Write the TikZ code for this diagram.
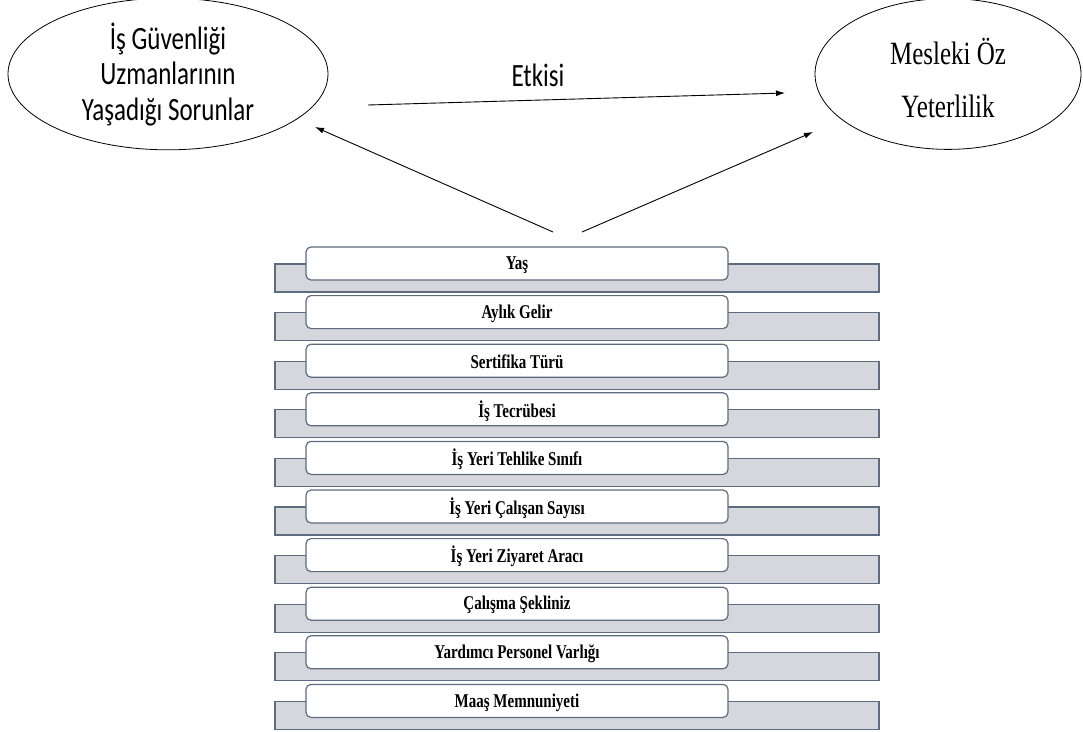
\documentclass[tikz,border=0pt]{standalone}
\usepackage{fontspec}
\usepackage{graphicx}
\setmainfont{Liberation Serif}
\newfontfamily\calibri{Carlito}
\usetikzlibrary{shapes.geometric,arrows.meta}
\definecolor{barfill}{HTML}{D5D7DC}
\definecolor{edgeblue}{HTML}{5D6C80}
\newcommand{\uzun}[2][0pt]{\raisebox{#1}[\height][\depth]{\scalebox{1}[1.3]{#2}}}
\begin{document}
\begin{tikzpicture}[x=1pt,y=-1pt,
	oval/.style={draw,ellipse,line width=0.8pt,inner sep=0pt,align=center},
	bar/.style={draw=edgeblue,fill=barfill,line width=1.2pt,minimum width=604pt,minimum height=28pt,inner sep=0pt},
	kutu/.style={draw=edgeblue,fill=white,rounded corners=5pt,line width=1.2pt,minimum width=422pt,minimum height=33pt,inner sep=0pt,font=\bfseries\fontsize{15}{18}\selectfont},
	ok/.style={-{Latex[length=9pt,width=6pt]},line width=0.9pt}]
		\useasboundingbox (0,0) rectangle (1083,731);
		\node[oval,minimum width=320pt,minimum height=138pt,font=\calibri\fontsize{25}{27}\selectfont] (sorun) at (168,74) {\uzun[-3pt]{\begin{tabular}{@{}c@{}}İş Güvenliği\\Uzmanlarının\\Yaşadığı Sorunlar\end{tabular}}};
		\node[oval,minimum width=266pt,minimum height=138pt,font=\fontsize{25}{41}\selectfont] (yeterlilik) at (948,74) {\uzun[-6pt]{\begin{tabular}{@{}c@{}}Mesleki Öz\\Yeterlilik\end{tabular}}};
		\node[font=\calibri\fontsize{25}{30}\selectfont] (etkisi) at (538,75) {\uzun{Etkisi}};
		% rows
		\foreach \lbl [count=\i from 0] in {Yaş,Aylık Gelir,Sertifika Türü,İş Tecrübesi,İş Yeri Tehlike Sınıfı,İş Yeri Çalışan Sayısı,İş Yeri Ziyaret Aracı,Çalışma Şekliniz,Yardımcı Personel Varlığı,Maaş Memnuniyeti}{
			\node[bar] (bar\i) at (577,{278+48.6*\i}) {};
			\node[kutu] (kutu\i) at (517,{263.5+48.6*\i}) {\uzun[-1.5pt]{\lbl}};
		}
		% arrows
		\coordinate (etkiA) at (368,105);
		\coordinate (etkiB) at (785,93);
		\coordinate (solA) at (553,232);
		\coordinate (solB) at (315,127);
		\coordinate (sagA) at (582,232);
		\coordinate (sagB) at (813,132);
		\draw[ok] (etkiA) -- (etkiB);
		\draw[ok] (solA) -- (solB);
		\draw[ok] (sagA) -- (sagB);
\end{tikzpicture}
\end{document}
